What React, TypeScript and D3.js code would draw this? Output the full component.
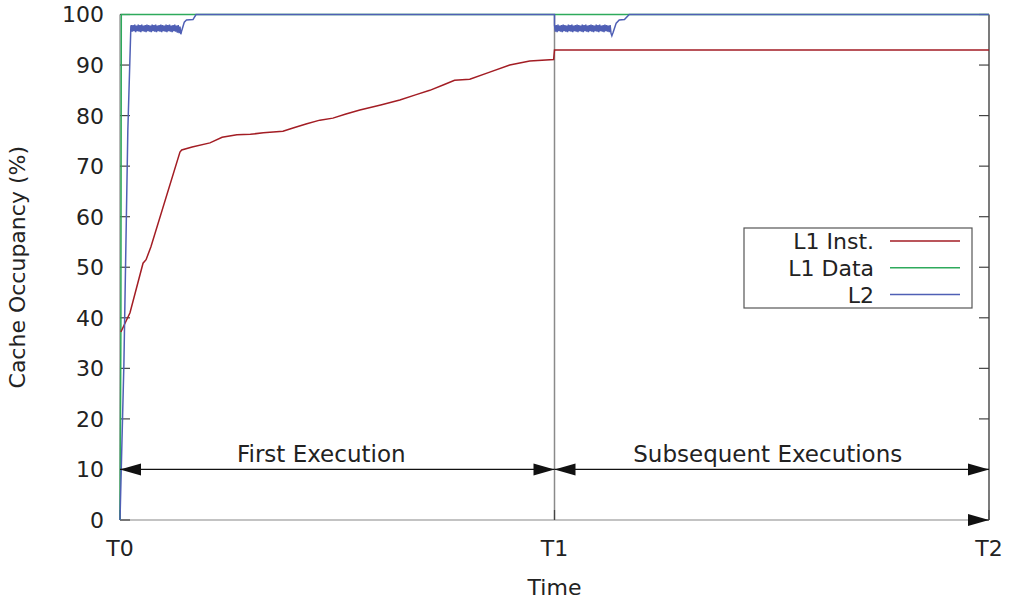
import React from "react";
import * as d3 from "d3";

// time axis: T0 .. T2 (one unit per execution phase)
const timeTickValues = [0, 1, 2];
const timeTickLabels = ["T0", "T1", "T2"];
const yTickValues = [0, 10, 20, 30, 40, 50, 60, 70, 80, 90, 100];

const phases = [
  { label: "First Execution", from: 0, to: 1 },
  { label: "Subsequent Executions", from: 1, to: 2 },
];
const arrowLevel = 10;

// [time, occupancy %]
const l1Inst: [number, number][] = [
  [0.002, 37.2], [0.023, 41], [0.053, 50.8], [0.06, 51.5], [0.071, 54],
  [0.138, 72.8], [0.142, 73.2], [0.166, 73.8], [0.207, 74.6], [0.235, 75.7],
  [0.269, 76.2], [0.3, 76.3], [0.33, 76.6], [0.375, 76.9], [0.4, 77.6],
  [0.43, 78.4], [0.46, 79.1], [0.49, 79.5], [0.52, 80.3], [0.552, 81.1],
  [0.6, 82.1], [0.644, 83.1], [0.68, 84.1], [0.713, 85], [0.745, 86.1],
  [0.77, 87], [0.805, 87.2], [0.851, 88.6], [0.897, 90], [0.92, 90.4],
  [0.943, 90.8], [0.998, 91.1], [1.0, 93], [2.0, 93],
];

const l1Data: [number, number][] = [
  [0, 0], [0.002, 37], [0.003, 100], [2.0, 100],
];

const l2: [number, number][] = [
  [0, 0], [0.009, 31], [0.018, 77], [0.025, 97.6],
  [0.026, 97.9], [0.028, 96.6], [0.03, 97.9], [0.032, 96.7], [0.034, 98.0],
  [0.036, 96.5], [0.038, 97.8], [0.04, 96.7], [0.042, 98.0], [0.044, 96.6],
  [0.046, 97.9], [0.048, 96.5], [0.05, 98.0], [0.052, 96.7], [0.054, 97.8],
  [0.056, 96.6], [0.058, 97.9], [0.06, 96.5], [0.062, 98.0], [0.064, 96.7],
  [0.066, 97.9], [0.068, 96.6], [0.07, 97.8], [0.072, 96.5], [0.074, 98.0],
  [0.076, 96.7], [0.078, 97.9], [0.08, 96.6], [0.082, 98.0], [0.084, 96.5],
  [0.086, 97.8], [0.088, 96.7], [0.09, 97.9], [0.092, 96.6], [0.094, 98.0],
  [0.096, 96.5], [0.098, 97.9], [0.1, 96.7], [0.102, 97.8], [0.104, 96.6],
  [0.106, 98.0], [0.108, 96.5], [0.11, 97.9], [0.112, 96.7], [0.114, 98.0],
  [0.116, 96.6], [0.118, 97.8], [0.12, 96.5], [0.122, 97.9], [0.124, 96.7],
  [0.126, 98.0], [0.128, 96.6], [0.13, 97.8], [0.132, 96.4], [0.134, 97.9],
  [0.136, 96.3], [0.138, 97.6], [0.14, 96.1],
  [0.142, 96.8], [0.148, 98.5], [0.153, 98.9], [0.168, 99.0], [0.175, 100],
  [1.0, 100], [1.0, 97.9],
  [1.002, 96.6], [1.004, 97.9], [1.006, 96.5], [1.008, 98.0], [1.01, 96.7],
  [1.012, 97.8], [1.014, 96.6], [1.016, 97.9], [1.018, 96.5], [1.02, 98.0],
  [1.022, 96.7], [1.024, 97.9], [1.026, 96.6], [1.028, 97.8], [1.03, 96.5],
  [1.032, 98.0], [1.034, 96.7], [1.036, 97.9], [1.038, 96.6], [1.04, 98.0],
  [1.042, 96.5], [1.044, 97.8], [1.046, 96.7], [1.048, 97.9], [1.05, 96.6],
  [1.052, 98.0], [1.054, 96.5], [1.056, 97.9], [1.058, 96.7], [1.06, 97.8],
  [1.062, 96.6], [1.064, 98.0], [1.066, 96.5], [1.068, 97.9], [1.07, 96.7],
  [1.072, 98.0], [1.074, 96.6], [1.076, 97.8], [1.078, 96.5], [1.08, 97.9],
  [1.082, 96.7], [1.084, 98.0], [1.086, 96.6], [1.088, 97.9], [1.09, 96.5],
  [1.092, 97.8], [1.094, 96.7], [1.096, 98.0], [1.098, 96.6], [1.1, 97.9],
  [1.102, 96.5], [1.104, 98.0], [1.106, 96.7], [1.108, 97.8], [1.11, 96.6],
  [1.112, 97.9], [1.114, 96.5], [1.116, 98.0], [1.118, 96.7], [1.12, 97.9],
  [1.122, 96.6], [1.124, 97.8], [1.126, 96.5], [1.128, 97.9], [1.13, 96.3],
  [1.132, 95.8],
  [1.135, 96.5], [1.142, 98.3], [1.149, 98.9], [1.161, 99.0], [1.172, 100],
  [2.0, 100],
];

const series = [
  { name: "L1 Inst.", data: l1Inst, color: "#a31d24" },
  { name: "L1 Data", data: l1Data, color: "#2eaa5c" },
  { name: "L2", data: l2, color: "#4f5fb5" },
];
// draw order: green first so blue sits on top at 100%
const drawOrder = [1, 0, 2];

const W = 1011;
const H = 601;
const font = "'DejaVu Sans', Verdana, sans-serif";

const App = () => {
  const x = d3.scaleLinear().domain([0, 2]).range([120, 989]);
  const y = d3.scaleLinear().domain([0, 100]).range([520, 14.5]);
  const line = d3
    .line<[number, number]>()
    .x((d) => x(d[0]))
    .y((d) => y(d[1]));

  const x0 = x(0);
  const x1 = x(2);
  const y0 = y(0);
  const y1 = y(100);

  const head = (tipX: number, tipY: number, dir: number) => {
    const len = 21;
    const half = 6;
    return `M${tipX},${tipY}L${tipX - dir * len},${tipY - half}L${tipX - dir * len},${tipY + half}Z`;
  };

  // labels sit a little left of the arrow midpoints
  const labelShift = [-16, -4];

  const legendX = 744;
  const legendY = 228;

  return (
    <svg
      width={W}
      height={H}
      style={{ position: "absolute", left: 0, top: 0, background: "#fff" }}
      fontFamily={font}
    >
      {/* T1 separator */}
      <line x1={x(1)} x2={x(1)} y1={y0} y2={y1} stroke="#8a8a8a" strokeWidth={1.5} />

      {/* frame */}
      <line x1={x0} x2={x0} y1={y0} y2={y1} stroke="#888" strokeWidth={1.2} />
      <line x1={x0} x2={x1} y1={y0} y2={y0} stroke="#888" strokeWidth={1.2} />
      <line x1={x1} x2={x1} y1={y0} y2={y1} stroke="#222" strokeWidth={1.2} />
      <line x1={x0} x2={x1} y1={y1} y2={y1} stroke="#222" strokeWidth={1.2} />

      {/* y ticks */}
      {yTickValues.map((v) => (
        <g key={v}>
          <line x1={x0} x2={x0 + 10} y1={y(v)} y2={y(v)} stroke="#444" strokeWidth={1.2} />
          <line x1={x1} x2={x1 - 10} y1={y(v)} y2={y(v)} stroke="#444" strokeWidth={1.2} />
          <text x={104} y={y(v)} dy="0.36em" textAnchor="end" fontSize={22} fill="#222">
            {v}
          </text>
        </g>
      ))}

      {/* x ticks */}
      {timeTickValues.map((t, i) => (
        <g key={t}>
          <line x1={x(t)} x2={x(t)} y1={y0} y2={y0 - 10} stroke="#444" strokeWidth={1.2} />
          <text x={x(t)} y={556} textAnchor="middle" fontSize={22} fill="#222">
            {timeTickLabels[i]}
          </text>
        </g>
      ))}

      <text x={x(1)} y={595} textAnchor="middle" fontSize={22} fill="#222">
        Time
      </text>
      <text
        transform={`translate(25,${(y0 + y1) / 2}) rotate(-90)`}
        textAnchor="middle"
        fontSize={22}
        fill="#222"
      >
        Cache Occupancy (%)
      </text>

      {/* series */}
      {drawOrder.map((i) => (
        <path
          key={series[i].name}
          d={line(series[i].data) ?? ""}
          fill="none"
          stroke={series[i].color}
          strokeWidth={1.5}
        />
      ))}

      {/* phase arrows */}
      {phases.map((p, i) => (
        <g key={p.label}>
          <line x1={x(p.from)} x2={x(p.to)} y1={y(arrowLevel)} y2={y(arrowLevel)} stroke="#111" strokeWidth={1.3} />
          <path d={head(x(p.from), y(arrowLevel), -1)} fill="#111" />
          <path d={head(x(p.to), y(arrowLevel), 1)} fill="#111" />
          <text
            x={(x(p.from) + x(p.to)) / 2 + labelShift[i]}
            y={y(arrowLevel) - 7}
            textAnchor="middle"
            fontSize={23}
            fill="#222"
          >
            {p.label}
          </text>
        </g>
      ))}
      <path d={head(x1, y0, 1)} fill="#111" />

      {/* legend */}
      <rect
        x={legendX}
        y={legendY}
        width={228}
        height={80}
        fill="#fff"
        stroke="#555"
        strokeWidth={1.2}
      />
      {series.map((s, i) => {
        const cy = 241 + i * 26.8;
        return (
          <g key={s.name}>
            <text x={874} y={cy} dy="0.36em" textAnchor="end" fontSize={22} fill="#222">
              {s.name}
            </text>
            <line x1={890} x2={960} y1={cy} y2={cy} stroke={s.color} strokeWidth={1.5} />
          </g>
        );
      })}
    </svg>
  );
};

export default App;
